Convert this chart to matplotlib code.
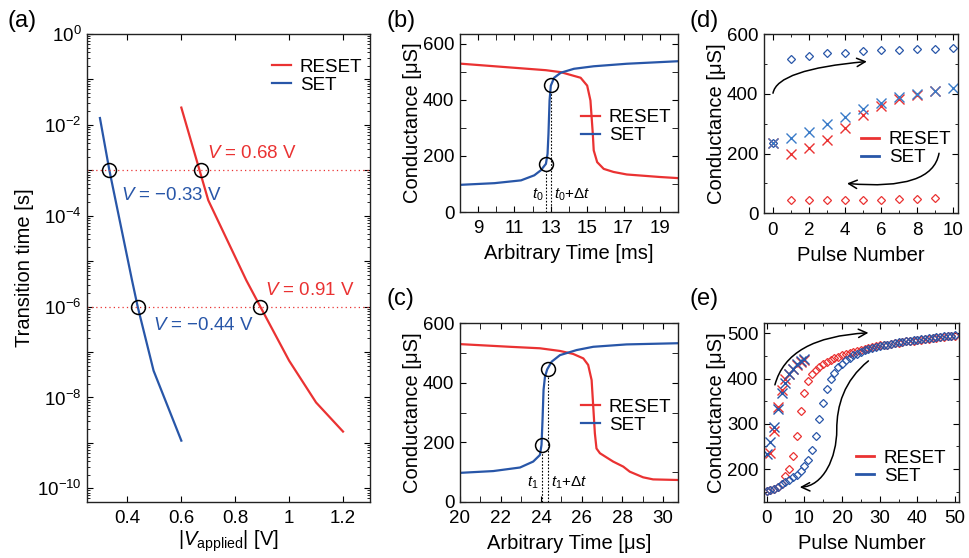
import numpy as np
import matplotlib.pyplot as plt
from matplotlib.ticker import LogLocator, FuncFormatter, MultipleLocator, NullFormatter, FixedLocator
from matplotlib.patches import FancyArrowPatch
from matplotlib.path import Path

plt.rcParams.update({
    'font.family': ['Liberation Sans', 'DejaVu Sans'],
    'mathtext.fontset': 'custom',
    'mathtext.rm': 'Liberation Sans',
    'mathtext.it': 'Liberation Sans:italic',
    'mathtext.bf': 'Liberation Sans:bold',
    'font.size': 13,
    'axes.linewidth': 1.0,
    'axes.edgecolor': '#222222',
    'xtick.direction': 'in', 'ytick.direction': 'in',
    'xtick.top': True, 'ytick.right': True,
    'xtick.major.size': 4, 'ytick.major.size': 4,
    'xtick.minor.size': 2.5, 'ytick.minor.size': 2.5,
    'xtick.labelsize': 13.5, 'ytick.labelsize': 13.5,
    'xtick.major.pad': 6, 'ytick.major.pad': 4,
})

RED = '#EA3232'
BLUE = '#2856A8'
LBL = 14.5

# (a) transition time vs |V|
reset_v = [0.60, 0.70, 0.841, 0.893, 1.00, 1.10, 1.20]
reset_logt = [-1.62, -3.66, -5.42, -6.00, -7.19, -8.11, -8.75]
set_v = [0.298, 0.333, 0.417, 0.438, 0.497, 0.60]
set_logt = [-1.85, -3.00, -5.42, -6.00, -7.41, -8.95]
mark_v = [0.333, 0.674, 0.438, 0.893]
mark_logt = [-3, -3, -6, -6]

# (b) conductance vs time [ms]
b_reset_t = [8.09, 12.73, 13.55, 14.64, 15.00, 15.18, 15.31, 15.36, 15.55, 15.91, 16.45, 17.18, 19.0, 20.0]
b_reset_g = [529, 506, 499, 479, 451, 398, 279, 220, 178, 154, 143, 134, 125, 121]
b_set_t = [8.0, 9.9, 11.36, 12.09, 12.45, 12.73, 12.82, 12.87, 12.93, 13.0, 13.18, 13.55, 14.27, 15.36, 17.18, 20.0]
b_set_g = [97, 103, 113, 131, 149, 172, 208, 279, 398, 451, 479, 497, 511, 520, 529, 538]
b_t0, b_g0 = 12.76, 172
b_t1, b_g1 = 13.03, 452

# (c) conductance vs time [us]
c_reset_t = [20.0, 22.46, 23.94, 24.93, 25.58, 26.08, 26.32, 26.49, 26.57, 26.65, 26.73, 26.9,
             27.55, 28.05, 28.37, 29.03, 29.52, 30.75]
c_reset_g = [530, 521, 516, 507, 497, 482, 460, 409, 320, 230, 179, 163, 135, 118, 101, 82, 75, 73]
c_set_t = [20.0, 21.64, 22.96, 23.61, 23.94, 24.02, 24.07, 24.12, 24.19, 24.3, 24.52, 24.93,
           25.75, 26.57, 28.21, 30.75]
c_set_g = [97, 103, 115, 135, 157, 191, 275, 376, 420, 445, 471, 493, 510, 521, 529, 533]
c_t0, c_g0 = 24.02, 191
c_t1, c_g1 = 24.33, 445

# (d) conductance vs pulse number (10 pulses)
d_n = np.arange(0, 11)
d_set_dia = [236, 516, 527, 535, 538, 542, 545, 547, 549, 550, 552]
d_set_x = [236, 253, 273, 298, 323, 348, 370, 388, 398, 410, 419]
d_reset_n = np.arange(0, 10)
d_reset_x = [236, 200, 217, 244, 285, 328, 359, 381, 397, 410]
d_reset_dia_n = np.arange(1, 10)
d_reset_dia = [43, 43, 44, 44, 45, 46, 47, 48, 51]

# (e) conductance vs pulse number (50 pulses)
e_n = np.arange(0, 51)
e_reset_dia = [152, 154, 157, 161, 168, 184, 200, 228, 274, 329, 368, 394, 409, 418, 426, 432,
               437, 441, 445, 448, 451, 454, 457, 459, 461, 463, 465, 467, 469, 471, 473, 474,
               475, 477, 478, 479, 481, 482, 483, 484, 485, 486, 487, 488, 489, 490, 491, 492,
               493, 494, 495]
e_set_dia = [152, 154, 157, 161, 166, 171, 176, 182, 187, 195, 207, 221, 243, 274, 310, 347,
             378, 399, 413, 425, 433, 440, 446, 451, 455, 459, 462, 465, 467, 469, 471, 473,
             475, 477, 478, 480, 481, 483, 484, 485, 486, 487, 488, 489, 490, 491, 492, 493,
             494, 495, 496]
e_reset_xn = np.arange(1, 11)
e_reset_x = [235, 285, 338, 375, 398, 410, 420, 430, 437, 442]
e_set_xn = np.arange(0, 11)
e_set_x = [234, 260, 294, 333, 368, 391, 410, 421, 432, 439, 443]

fig = plt.figure(figsize=(9.7, 5.58), dpi=100)
ax_a = fig.add_axes([0.0897, 0.1004, 0.2917, 0.8387])
ax_b = fig.add_axes([0.4742, 0.620, 0.2248, 0.319])
ax_c = fig.add_axes([0.4742, 0.1009, 0.2248, 0.3197])
ax_d = fig.add_axes([0.7876, 0.6177, 0.2000, 0.3213])
ax_e = fig.add_axes([0.7876, 0.1009, 0.2014, 0.3197])

leg_kw = dict(frameon=False, handlelength=1.0, handletextpad=0.5, labelspacing=0.05,
              borderpad=0.2, fontsize=13.5)

# ---- (a)
ax = ax_a
ax.plot(reset_v, 10.0 ** np.array(reset_logt), color=RED, lw=1.6, label='RESET')
ax.plot(set_v, 10.0 ** np.array(set_logt), color=BLUE, lw=1.6, label='SET')
for ly in (-3, -6):
    ax.axhline(10.0 ** ly, color=RED, lw=0.9, ls=(0, (1, 2.5)))
ax.plot(mark_v, 10.0 ** np.array(mark_logt), 'o', mfc='none', mec='k', ms=10, mew=1.1)
ax.text(0.695, 10 ** -2.62, r'$V$ = 0.68 V', color=RED, va='center', fontsize=13.5)
ax.text(0.377, 10 ** -3.55, r'$V$ = −0.33 V', color=BLUE, va='center', fontsize=13.5)
ax.text(0.909, 10 ** -5.64, r'$V$ = 0.91 V', color=RED, va='center', fontsize=13.5)
ax.text(0.494, 10 ** -6.42, r'$V$ = −0.44 V', color=BLUE, va='center', fontsize=13.5)
ax.set_yscale('log')
ax.set_xlim(0.25, 1.3)
ax.set_ylim(10 ** -10.3, 1)
ax.set_xticks([0.4, 0.6, 0.8, 1.0, 1.2])
ax.set_xticklabels(['0.4', '0.6', '0.8', '1', '1.2'])
ax.yaxis.set_major_locator(LogLocator(base=10, numticks=20))
ax.yaxis.set_major_formatter(FuncFormatter(
    lambda v, p: r'$10^{%d}$' % round(np.log10(v)) if round(np.log10(v)) % 2 == 0 else ''))
ax.yaxis.set_minor_locator(LogLocator(base=10, subs=np.arange(2, 10), numticks=20))
ax.yaxis.set_minor_formatter(NullFormatter())
ax.set_xlabel(r'|$V_{\mathrm{applied}}$| [V]', fontsize=LBL, labelpad=1)
ax.set_ylabel('Transition time [s]', fontsize=LBL, labelpad=2)
ax.legend(loc='upper right', bbox_to_anchor=(1.02, 0.975), **leg_kw)

# ---- (b)
ax = ax_b
ax.plot(b_reset_t, b_reset_g, color=RED, lw=1.6, label='RESET')
ax.plot(b_set_t, b_set_g, color=BLUE, lw=1.6, label='SET')
ax.plot([b_t0, b_t1], [b_g0, b_g1], 'o', mfc='none', mec='k', ms=10, mew=1.1)
ax.vlines([b_t0, b_t1], 0, [b_g0 - 25, b_g1 - 25], color='k', lw=0.8, ls=(0, (1.5, 1.5)))
ax.text(b_t0 - 0.15, 60, r'$t_0$', ha='right', va='center', fontsize=11)
ax.text(b_t1 + 0.15, 60, r'$t_0$+$\Delta t$', ha='left', va='center', fontsize=11)
ax.set_xlim(8, 20)
ax.set_ylim(0, 635)
ax.xaxis.set_major_locator(FixedLocator([9, 11, 13, 15, 17, 19]))
ax.xaxis.set_minor_locator(FixedLocator([8, 10, 12, 14, 16, 18, 20]))
ax.tick_params(which='minor', length=4)
ax.yaxis.set_major_locator(MultipleLocator(200))
ax.yaxis.set_minor_locator(MultipleLocator(100))
ax.set_xlabel('Arbitrary Time [ms]', fontsize=LBL, labelpad=5)
ax.set_ylabel('Conductance [μS]', fontsize=LBL, labelpad=1)
ax.legend(loc='center right', bbox_to_anchor=(1.03, 0.48), **leg_kw)

# ---- (c)
ax = ax_c
ax.plot(c_reset_t, c_reset_g, color=RED, lw=1.6, label='RESET')
ax.plot(c_set_t, c_set_g, color=BLUE, lw=1.6, label='SET')
ax.plot([c_t0, c_t1], [c_g0, c_g1], 'o', mfc='none', mec='k', ms=10, mew=1.1)
ax.vlines([c_t0, c_t1], 0, [c_g0 - 25, c_g1 - 25], color='k', lw=0.8, ls=(0, (1.5, 1.5)))
ax.text(c_t0 - 0.15, 65, r'$t_1$', ha='right', va='center', fontsize=11)
ax.text(c_t1 + 0.15, 65, r'$t_1$+$\Delta t$', ha='left', va='center', fontsize=11)
ax.set_xlim(20, 30.75)
ax.set_ylim(0, 600)
ax.xaxis.set_major_locator(MultipleLocator(2))
ax.xaxis.set_minor_locator(MultipleLocator(1))
ax.tick_params(which='minor', length=4)
ax.yaxis.set_major_locator(MultipleLocator(200))
ax.yaxis.set_minor_locator(MultipleLocator(100))
ax.set_xlabel('Arbitrary Time [μs]', fontsize=LBL, labelpad=5)
ax.set_ylabel('Conductance [μS]', fontsize=LBL, labelpad=1)
ax.legend(loc='center right', bbox_to_anchor=(1.03, 0.48), **leg_kw)

# ---- (d)
ax = ax_d
ax.plot(d_reset_dia_n, d_reset_dia, 'D', mfc='none', mec=RED, ms=4.5, mew=0.9)
ax.plot(d_n, d_set_dia, 'D', mfc='none', mec=BLUE, ms=4.5, mew=0.9)
ax.plot(d_reset_n, d_reset_x, 'x', color=RED, ms=6.5, mew=1.0)
ax.plot(d_n, d_set_x, 'x', color='#3A7BC8', ms=6.5, mew=1.0)
ax.plot([], [], color=RED, lw=2, label='RESET')
ax.plot([], [], color=BLUE, lw=2, label='SET')
ax.annotate('', xy=(5.2, 508), xytext=(0, 402),
            arrowprops=dict(arrowstyle='->', color='k', lw=1.1, mutation_scale=15,
                            connectionstyle='angle3,angleA=80,angleB=5', shrinkA=0, shrinkB=0))
ax.annotate('', xy=(4.1, 100), xytext=(9.2, 201),
            arrowprops=dict(arrowstyle='->', color='k', lw=1.1, mutation_scale=15,
                            connectionstyle='angle3,angleA=-100,angleB=175', shrinkA=0, shrinkB=0))
ax.set_xlim(-0.5, 10.25)
ax.set_ylim(0, 600)
ax.xaxis.set_major_locator(MultipleLocator(2))
ax.xaxis.set_minor_locator(MultipleLocator(1))
ax.yaxis.set_major_locator(MultipleLocator(200))
ax.yaxis.set_minor_locator(MultipleLocator(100))
ax.set_xlabel('Pulse Number', fontsize=LBL, labelpad=5)
ax.set_ylabel('Conductance [μS]', fontsize=LBL, labelpad=1)
ax.legend(loc='center left', bbox_to_anchor=(0.43, 0.36), **leg_kw)

# ---- (e)
ax = ax_e
ax.plot(e_n, e_reset_dia, 'D', mfc='none', mec=RED, ms=4.5, mew=0.9)
ax.plot(e_n, e_set_dia, 'D', mfc='none', mec=BLUE, ms=4.5, mew=0.9)
ax.plot(e_reset_xn, e_reset_x, 'x', color=RED, ms=6.5, mew=1.0)
ax.plot(e_set_xn, e_set_x, 'x', color=BLUE, ms=6.5, mew=1.0)
ax.plot([], [], color=RED, lw=2, label='RESET')
ax.plot([], [], color=BLUE, lw=2, label='SET')
ax.annotate('', xy=(27, 501), xytext=(2.2, 386),
            arrowprops=dict(arrowstyle='->', color='k', lw=1.1, mutation_scale=15,
                            connectionstyle='angle3,angleA=75,angleB=3', shrinkA=0, shrinkB=0))
s_path = Path([(27, 439), (20.5, 395), (18.6, 340), (18.6, 287),
               (18.6, 225), (15, 162), (8.8, 160)],
              [Path.MOVETO, Path.CURVE4, Path.CURVE4, Path.CURVE4,
               Path.CURVE4, Path.CURVE4, Path.CURVE4])
ax.add_patch(FancyArrowPatch(path=s_path, arrowstyle='->', color='k', lw=1.1,
                             mutation_scale=15))
ax.set_xlim(-0.7, 51.1)
ax.set_ylim(128, 522)
ax.xaxis.set_major_locator(MultipleLocator(10))
ax.xaxis.set_minor_locator(MultipleLocator(5))
ax.yaxis.set_major_locator(MultipleLocator(100))
ax.yaxis.set_minor_locator(MultipleLocator(50))
ax.set_xlabel('Pulse Number', fontsize=LBL, labelpad=5)
ax.set_ylabel('Conductance [μS]', fontsize=LBL, labelpad=1)
ax.legend(loc='lower right', bbox_to_anchor=(1.0, 0.02), **leg_kw)

# panel letters
for lbl, x, y in [('(a)', 0.008, 0.963), ('(b)', 0.398, 0.963), ('(c)', 0.398, 0.465),
                  ('(d)', 0.711, 0.963), ('(e)', 0.711, 0.465)]:
    fig.text(x, y, lbl, fontsize=17, va='center', ha='left')

fig.savefig('out.png', dpi=100)
